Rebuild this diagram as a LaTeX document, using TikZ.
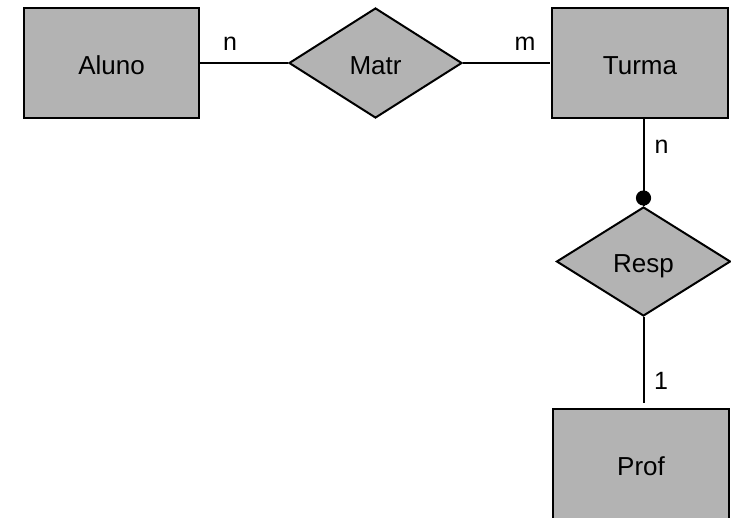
\documentclass[tikz,border=0pt]{standalone}
\usepackage{fontspec}
\setmainfont{Liberation Sans}
\usetikzlibrary{shapes.geometric,calc}
\definecolor{boxgray}{RGB}{179,179,179}
\tikzset{
  boxtext/.style={font=\fontsize{26}{30}\selectfont, text height=23.6pt, text depth=0pt},
  entity/.style={draw=black, fill=boxgray, line width=2pt, minimum width=176pt, minimum height=110pt, inner sep=0pt, boxtext},
  relation/.style={draw=black, fill=boxgray, line width=2pt, diamond, minimum width=173pt, minimum height=110pt, inner sep=0pt, boxtext},
  link/.style={line width=2pt},
  card/.style={font=\fontsize{25}{29}\selectfont, inner sep=0pt}
}
\begin{document}
\begin{tikzpicture}[x=1pt,y=-1pt]
\useasboundingbox (0,0) rectangle (731,517);
\clip (0,0) rectangle (731,517);
\node[entity, minimum width=175pt] (aluno) at (111.5,63) {Aluno};
\node[relation] (matr) at (375.5,63) {Matr};
\node[entity] (turma) at (640,63) {Turma};
\node[relation, minimum width=174pt, minimum height=109pt, text height=21pt] (resp) at (643.5,261.5) {Resp};
\node[entity] (prof) at (641,464) {Prof};
\coordinate (mend) at ($(turma.west)+(-1.5,0)$);
\coordinate (dot) at ($(resp.north)+(0,-8)$);
\coordinate (pend) at ($(prof.north -| resp.south)+(0,-5)$);
\draw[link] (aluno.east) -- (matr.west);
\draw[link] (matr.east) -- (mend);
\draw[link] (turma.south -| resp.north) -- (resp.north);
\fill (dot) circle (7.6pt);
\draw[link] (resp.south) -- (pend);
\node[card] (c1) at (230,44) {n};
\node[card] (c2) at (525,44) {m};
\node[card] (c3) at (661.5,147) {n};
\node[card] (c4) at (661,380.5) {1};
\end{tikzpicture}
\end{document}
